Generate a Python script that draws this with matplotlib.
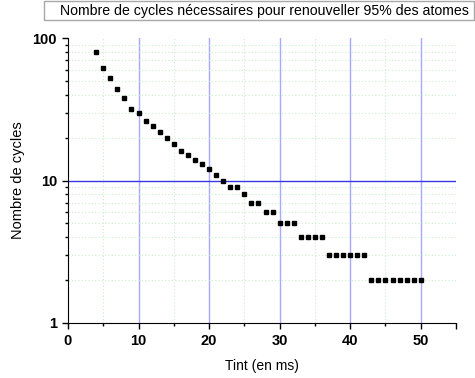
import matplotlib
matplotlib.use("Agg")
import matplotlib.pyplot as plt
from matplotlib.patches import Rectangle
from matplotlib.ticker import LogLocator, NullFormatter, FixedLocator

plt.rcParams['font.family'] = ['Liberation Sans', 'DejaVu Sans']

# data
tint = list(range(4, 51))
cycles = [80, 62, 52, 44, 38, 32, 30, 26, 24, 22, 20, 18, 16, 15, 14, 13, 12, 11, 10,
          9, 9, 8, 7, 7, 6, 6, 5, 5, 5, 4, 4, 4, 4, 3, 3, 3, 3, 3, 3,
          2, 2, 2, 2, 2, 2, 2, 2]
legend_label = "Nombre de cycles nécessaires pour renouveller 95% des atomes"
x_ticks = [0, 10, 20, 30, 40, 50]
y_ticks = [1, 10, 100]

W, H = 475, 378
fig = plt.figure(figsize=(W / 100, H / 100), dpi=100)
ax = fig.add_axes([68 / W, 1 - 323 / H, (456 - 68) / W, (323 - 38) / H])

# grid
for x in [5, 15, 25, 35, 45]:
    ax.axvline(x, color='#c8f0c8', lw=0.8, ls=(0, (1, 2)), zorder=0)
for x in [10, 20, 30, 40, 50]:
    ax.axvline(x, color='#a8a8ff', lw=1, zorder=0)
for y in [2, 3, 4, 5, 6, 7, 8, 9, 20, 30, 40, 50, 60, 70, 80, 90]:
    ax.axhline(y, color='#c8f0c8', lw=0.8, ls=(0, (1, 2)), zorder=0)
ax.axhline(10, color='#3838e0', lw=1, zorder=1)

ax.plot(tint, cycles, ls='none', marker='s', ms=3.3, color='black', zorder=3)

ax.set_yscale('log')
ax.set_xlim(0, 55)
ax.set_ylim(1, 100)
ax.xaxis.set_major_locator(FixedLocator(x_ticks + [55]))
ax.set_xticklabels([str(t) for t in x_ticks] + [''])
ax.xaxis.set_minor_locator(FixedLocator([5, 15, 25, 35, 45]))
ax.yaxis.set_major_locator(FixedLocator(y_ticks))
ax.set_yticklabels([str(t) for t in y_ticks])
ax.yaxis.set_minor_locator(LogLocator(base=10, subs=range(2, 10)))
ax.yaxis.set_minor_formatter(NullFormatter())

for lab in ax.get_xticklabels() + ax.get_yticklabels():
    lab.set_fontweight('bold')
    lab.set_fontsize(10.5)
ax.tick_params(which='major', direction='out', length=4, width=1, pad=4)
ax.tick_params(which='minor', direction='out', length=2.5, width=1)

ax.spines['top'].set_visible(False)
ax.spines['right'].set_visible(False)

ax.set_xlabel('Tint (en ms)', fontsize=10, labelpad=8)
ax.set_ylabel('Nombre de cycles', fontsize=10.5, labelpad=5)

# legend box
fig.patches.append(Rectangle((44 / W, 1 - 20 / H), (474 - 44) / W, 19 / H,
                             transform=fig.transFigure, fc='white', ec='#a8a8a8', lw=1))
fig.text(60 / W, 1 - 11 / H, legend_label, fontsize=10.2, ha='left', va='center')

fig.savefig('out.png', dpi=100)
